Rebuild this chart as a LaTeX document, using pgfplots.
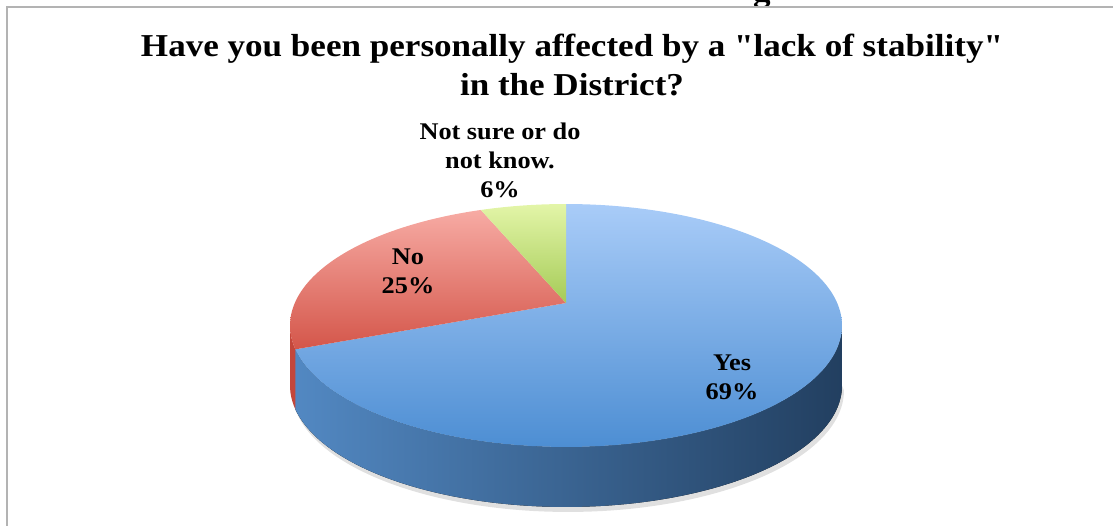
\documentclass[border=0pt]{standalone}
\usepackage{fontspec}
\setmainfont{Liberation Serif}
\newfontfamily\titlefont[FakeStretch=1.1]{Liberation Serif}
\usepackage{pgfplots}
\pgfplotsset{compat=1.18}
\usepackage{pgfplotstable}
\usepgfplotslibrary{fillbetween}

\definecolor{yesTop}{HTML}{A9CCF8}
\definecolor{yesBot}{HTML}{4D8ED3}
\definecolor{noTop}{HTML}{F7ABA4}
\definecolor{noBot}{HTML}{D4564A}
\definecolor{nsTop}{HTML}{E3F5A8}
\definecolor{nsBot}{HTML}{A5CB57}
\definecolor{sideL}{HTML}{5288C2}
\definecolor{sideM}{HTML}{2E5D8B}
\definecolor{sideR}{HTML}{223F60}
\definecolor{noSide}{HTML}{C4473B}
\definecolor{frameGray}{HTML}{B3B3B3}

% survey answers, percent
\pgfplotstableread{
label value
Yes 69
No 25
NotSure 6
}\piedata

\pgfplotstablegetelem{0}{value}\of\piedata \pgfmathsetmacro\vYes{\pgfplotsretval}
\pgfplotstablegetelem{1}{value}\of\piedata \pgfmathsetmacro\vNo{\pgfplotsretval}
\pgfplotstablegetelem{2}{value}\of\piedata \pgfmathsetmacro\vNS{\pgfplotsretval}
% slice boundaries, degrees clockwise from 12 o'clock
\pgfmathsetmacro\aA{3.6*\vYes}
\pgfmathsetmacro\aB{\aA+3.6*\vNo}
\pgfmathsetmacro\aC{\aB+3.6*\vNS}
% where the visible rim of the tilted disc begins and ends
\pgfmathsetmacro\rimL{acos(-0.1852)}
\pgfmathsetmacro\rimR{360-\rimL}
\def\depth{60}
\newcommand\dq{\symbol{34}}

\begin{document}
\begin{tikzpicture}[
  declare function={
    px(\t)=566+271.2*sin(\t)/(1+0.1852*cos(\t));
    py(\t)=223+117.3*cos(\t)/(1+0.1852*cos(\t));
  },
  lbl/.style={align=center, font=\titlefont\fontsize{24}{29}\selectfont\bfseries}]
\begin{axis}[
  scale only axis, width=1113bp, height=526bp,
  xmin=0, xmax=1113, ymin=0, ymax=526,
  axis line style={draw=none}, ticks=none,
  clip=false,
]
% soft shadow under the disc
\addplot[name path=sh1, draw=none, domain=\rimL:\rimR, samples=120, variable=\t] ({px(\t)},{py(\t)-\depth});
\addplot[name path=sh2, draw=none, domain=\rimL:\rimR, samples=120, variable=\t] ({px(\t)+2},{py(\t)-\depth-5});
\addplot[black, opacity=0.12, draw=none] fill between[of=sh1 and sh2];

% side wall: Yes
\addplot[name path=yT, draw=none, domain=\rimL:\aA, samples=150, variable=\t] ({px(\t)},{py(\t)});
\addplot[name path=yB, draw=none, domain=\rimL:\aA, samples=150, variable=\t] ({px(\t)},{py(\t)-\depth});
\addplot[draw=none, left color=sideL, middle color=sideM, right color=sideR] fill between[of=yT and yB];
% side wall: No
\addplot[name path=nT, draw=none, domain=\aA:\rimR, samples=30, variable=\t] ({px(\t)},{py(\t)});
\addplot[name path=nB, draw=none, domain=\aA:\rimR, samples=30, variable=\t] ({px(\t)},{py(\t)-\depth});
\addplot[draw=none, fill=noSide] fill between[of=nT and nB];

% top faces
\addplot[draw=none, top color=yesTop, bottom color=yesBot, domain=0:\aA, samples=200, variable=\t]
  ({px(\t)},{py(\t)}) -- (axis cs:566,223) -- cycle;
\addplot[draw=none, top color=noTop, bottom color=noBot, domain=\aA:\aB, samples=100, variable=\t]
  ({px(\t)},{py(\t)}) -- (axis cs:566,223) -- cycle;
\addplot[draw=none, top color=nsTop, bottom color=nsBot, domain=\aB:\aC, samples=40, variable=\t]
  ({px(\t)},{py(\t)}) -- (axis cs:566,223) -- cycle;

% slice labels
\node[lbl] at (axis cs:732,149) {Yes\\69\%};
\node[lbl] at (axis cs:408,255) {No\\25\%};
\node[lbl] at (axis cs:500,366) {Not sure or do\\not know.\\6\%};

% title
\node[align=center, font=\titlefont\fontsize{32}{40}\selectfont\bfseries] at (axis cs:572,461)
  {Have you been personally affected by a \dq lack of stability\dq\\in the District?};
\node[anchor=base, font=\titlefont\fontsize{32}{40}\selectfont\bfseries] at (axis cs:762,524) {g};

% chart frame
\draw[frameGray, line width=2.5bp] (axis cs:7,0) -- (axis cs:7,519) -- (axis cs:1113,519);
\end{axis}
\pgfresetboundingbox
\path (current axis.south west) rectangle (current axis.north east);
\end{tikzpicture}
\end{document}
